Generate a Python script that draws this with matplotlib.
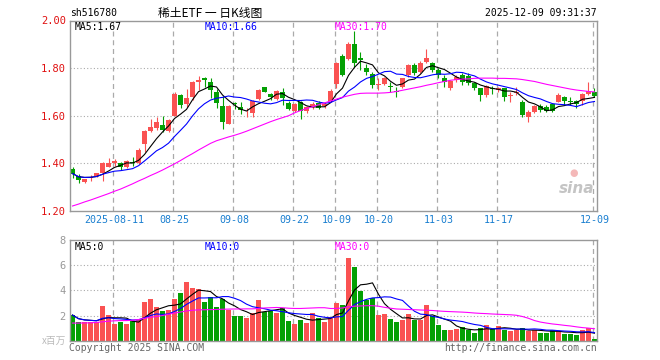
import numpy as np
import pandas as pd
import matplotlib
matplotlib.use("Agg")
import matplotlib.pyplot as plt

# daily candles, 2025-07-31 .. 2025-12-09
opens = [1.378, 1.347, 1.321, 1.338, 1.347, 1.361, 1.386, 1.400, 1.401, 1.386,
         1.405, 1.400, 1.483, 1.536, 1.547, 1.563, 1.536, 1.599, 1.689, 1.651,
         1.677, 1.743, 1.758, 1.743, 1.701, 1.643, 1.567, 1.652, 1.638, 1.610,
         1.613, 1.671, 1.721, 1.693, 1.671, 1.700, 1.654, 1.619, 1.657, 1.618,
         1.637, 1.654, 1.640, 1.660, 1.735, 1.850, 1.840, 1.901, 1.841, 1.802,
         1.774, 1.728, 1.732, 1.725, 1.704, 1.722, 1.771, 1.813, 1.785, 1.824,
         1.820, 1.792, 1.760, 1.715, 1.750, 1.771, 1.768, 1.736, 1.715, 1.687,
         1.715, 1.709, 1.715, 1.681, 1.695, 1.659, 1.596, 1.617, 1.642, 1.638,
         1.648, 1.659, 1.680, 1.662, 1.662, 1.662, 1.690, 1.698]
highs = [1.386, 1.356, 1.336, 1.351, 1.361, 1.405, 1.421, 1.420, 1.405, 1.415,
         1.425, 1.463, 1.542, 1.587, 1.594, 1.597, 1.587, 1.700, 1.690, 1.714,
         1.745, 1.769, 1.762, 1.758, 1.712, 1.682, 1.645, 1.657, 1.657, 1.633,
         1.668, 1.712, 1.722, 1.696, 1.710, 1.717, 1.661, 1.654, 1.661, 1.640,
         1.657, 1.661, 1.657, 1.712, 1.825, 1.860, 1.911, 1.956, 1.866, 1.816,
         1.785, 1.757, 1.764, 1.743, 1.722, 1.760, 1.816, 1.820, 1.830, 1.880,
         1.827, 1.799, 1.771, 1.750, 1.771, 1.778, 1.778, 1.743, 1.715, 1.729,
         1.726, 1.722, 1.718, 1.698, 1.722, 1.666, 1.624, 1.645, 1.648, 1.645,
         1.652, 1.694, 1.684, 1.680, 1.666, 1.694, 1.740, 1.715]
lows = [1.340, 1.319, 1.317, 1.328, 1.344, 1.328, 1.383, 1.390, 1.372, 1.380,
        1.390, 1.397, 1.449, 1.532, 1.540, 1.532, 1.532, 1.597, 1.634, 1.637,
        1.665, 1.707, 1.720, 1.675, 1.633, 1.543, 1.565, 1.627, 1.606, 1.596,
        1.596, 1.668, 1.699, 1.668, 1.668, 1.647, 1.626, 1.615, 1.585, 1.612,
        1.629, 1.629, 1.633, 1.656, 1.715, 1.765, 1.834, 1.806, 1.792, 1.771,
        1.715, 1.708, 1.729, 1.701, 1.680, 1.715, 1.764, 1.771, 1.778, 1.820,
        1.785, 1.757, 1.722, 1.708, 1.743, 1.729, 1.730, 1.708, 1.662, 1.680,
        1.690, 1.701, 1.662, 1.659, 1.687, 1.596, 1.575, 1.610, 1.617, 1.614,
        1.614, 1.656, 1.645, 1.645, 1.634, 1.645, 1.687, 1.680]
closes = [1.357, 1.331, 1.335, 1.343, 1.358, 1.403, 1.400, 1.411, 1.386, 1.410,
          1.400, 1.456, 1.535, 1.553, 1.574, 1.541, 1.581, 1.693, 1.644, 1.675,
          1.742, 1.752, 1.749, 1.707, 1.654, 1.574, 1.640, 1.648, 1.624, 1.613,
          1.661, 1.707, 1.699, 1.679, 1.706, 1.675, 1.629, 1.651, 1.619, 1.635,
          1.650, 1.633, 1.651, 1.705, 1.820, 1.771, 1.900, 1.820, 1.834, 1.785,
          1.729, 1.732, 1.757, 1.721, 1.701, 1.757, 1.813, 1.778, 1.823, 1.844,
          1.792, 1.771, 1.740, 1.746, 1.764, 1.743, 1.736, 1.715, 1.687, 1.726,
          1.711, 1.715, 1.680, 1.687, 1.701, 1.603, 1.617, 1.642, 1.624, 1.620,
          1.620, 1.687, 1.662, 1.659, 1.648, 1.690, 1.704, 1.684]
# volume, millions
volumes = [2.04, 1.46, 1.46, 1.51, 1.46, 2.76, 2.04, 1.33, 1.51, 1.33,
           1.57, 1.64, 3.07, 3.31, 2.70, 2.36, 2.44, 3.31, 3.79, 4.66,
           4.21, 4.11, 3.07, 3.47, 2.68, 3.31, 2.44, 1.96, 1.99, 1.80,
           2.20, 3.23, 2.31, 2.36, 2.20, 2.57, 1.57, 1.33, 1.64, 1.43,
           2.20, 1.80, 1.51, 1.88, 2.99, 2.84, 6.57, 5.85, 3.95, 3.23,
           3.37, 2.04, 2.12, 1.72, 1.49, 1.67, 2.10, 1.68, 1.68, 2.85,
           1.96, 1.24, 0.86, 0.86, 0.94, 1.05, 0.83, 0.62, 0.98, 1.25,
           0.90, 1.17, 0.85, 0.77, 0.85, 0.98, 0.77, 0.85, 0.64, 0.64,
           0.85, 0.77, 0.56, 0.56, 0.45, 0.85, 0.98, 0.14]
# 30-day averages as shown (they reach back before the window)
price_ma30 = [1.221, 1.229, 1.238, 1.246, 1.255, 1.264, 1.273, 1.283, 1.292, 1.303,
              1.314, 1.326, 1.337, 1.349, 1.360, 1.372, 1.385, 1.398, 1.412, 1.427,
              1.441, 1.456, 1.470, 1.484, 1.495, 1.503, 1.511, 1.518, 1.526, 1.535,
              1.545, 1.555, 1.565, 1.575, 1.584, 1.592, 1.600, 1.612, 1.622, 1.630,
              1.638, 1.646, 1.654, 1.662, 1.670, 1.678, 1.684, 1.690, 1.694, 1.695,
              1.695, 1.695, 1.696, 1.698, 1.702, 1.707, 1.712, 1.717, 1.722, 1.728,
              1.733, 1.739, 1.744, 1.749, 1.752, 1.754, 1.755, 1.757, 1.758, 1.758,
              1.758, 1.757, 1.757, 1.756, 1.755, 1.752, 1.748, 1.744, 1.738, 1.732,
              1.727, 1.722, 1.717, 1.712, 1.708, 1.705, 1.702, 1.700]
volume_ma30 = [1.40, 1.40, 1.41, 1.42, 1.45, 1.50, 1.55, 1.58, 1.60, 1.60,
               1.62, 1.68, 1.78, 1.86, 1.92, 2.00, 2.10, 2.20, 2.28, 2.36,
               2.42, 2.45, 2.46, 2.47, 2.48, 2.50, 2.51, 2.52, 2.52, 2.53,
               2.53, 2.56, 2.60, 2.62, 2.64, 2.62, 2.58, 2.56, 2.56, 2.58,
               2.60, 2.62, 2.62, 2.56, 2.56, 2.60, 2.70, 2.74, 2.76, 2.78,
               2.78, 2.74, 2.65, 2.58, 2.52, 2.50, 2.48, 2.46, 2.44, 2.42,
               2.40, 2.36, 2.33, 2.31, 2.29, 2.27, 2.24, 2.20, 2.17, 2.15,
               2.12, 2.10, 2.08, 2.06, 2.02, 1.92, 1.78, 1.60, 1.48, 1.40,
               1.33, 1.28, 1.22, 1.17, 1.10, 1.04, 1.00, 0.95]
tick_pos = [7, 17, 27, 37, 44, 51, 61, 71, 87]
tick_labels = ["2025-08-11", "08-25", "09-08", "09-22", "10-09",
               "10-20", "11-03", "11-17", "12-09"]

RED = "#fa5252"
GREEN = "#04a004"
GRID = "#aaaaaa"
MONO = "DejaVu Sans Mono"

x = np.arange(len(closes))
o = np.array(opens)
c = np.array(closes)
up = c >= o
colors = np.where(up, RED, GREEN)

ma5 = pd.Series(closes).rolling(5, min_periods=1).mean()
ma10 = pd.Series(closes).rolling(10, min_periods=1).mean()
vma5 = pd.Series(volumes).rolling(5, min_periods=1).mean()
vma10 = pd.Series(volumes).rolling(10, min_periods=1).mean()

fig = plt.figure(figsize=(6.6, 3.6), dpi=100)
ax = fig.add_axes([70 / 660, 1 - 211 / 360, 527 / 660, 190.5 / 360])
axv = fig.add_axes([70 / 660, 1 - 340.7 / 360, 527 / 660, 100.7 / 360])

for a in (ax, axv):
    a.set_xlim(-0.42, len(closes) - 0.58)
    for s in a.spines.values():
        s.set_color("#999999")
        s.set_linewidth(1.0)
    a.tick_params(length=0)
    for t in tick_pos:
        a.axvline(t - 0.25, color=GRID, lw=0.9, ls=(0, (4, 3)), zorder=0)

# price panel
ax.set_ylim(1.2, 2.0)
for lvl in (1.4, 1.6, 1.8):
    ax.axhline(lvl, color=GRID, lw=0.8, ls=(0, (1, 2)), zorder=0)
ax.vlines(x, lows, highs, colors=colors, lw=0.8, zorder=2)
body = np.maximum(np.abs(c - o), 0.003)
ax.bar(x, body, bottom=np.minimum(o, c), width=0.72, color=colors, zorder=2)
ax.plot(x, ma5, color="black", lw=0.8, zorder=3)
ax.plot(x, ma10, color="#0000ff", lw=0.8, zorder=3)
ax.plot(x, price_ma30, color="#ff00ff", lw=0.8, zorder=3)
ax.set_yticks([1.2, 1.4, 1.6, 1.8, 2.0])
ax.set_yticklabels(["%.2f" % v for v in [1.2, 1.4, 1.6, 1.8, 2.0]],
                   family=MONO, fontsize=7.5, color="#e01010")
ax.tick_params(axis="y", pad=3)
ax.set_xticks(tick_pos)
ax.set_xticklabels(tick_labels, family=MONO, fontsize=7.2, color="#1a7fd0")
ax.tick_params(axis="x", pad=3)

ax.text(0.009, 0.965, "MA5:1.67", transform=ax.transAxes, family=MONO,
        fontsize=7, color="black", va="center")
ax.text(0.255, 0.965, "MA10:1.66", transform=ax.transAxes, family=MONO,
        fontsize=7, color="#0000ff", va="center")
ax.text(0.503, 0.965, "MA30:1.70", transform=ax.transAxes, family=MONO,
        fontsize=7, color="#ff00ff", va="center")
ax.text(0.995, 0.12, "sina", transform=ax.transAxes, ha="right", va="center",
        fontsize=11, style="italic", weight="bold", color="#c4c4c4")
ax.text(0.955, 0.2, "●", transform=ax.transAxes, ha="center", va="center",
        fontsize=7, color="#f4b8b8")

# volume panel
axv.set_ylim(0, 8)
for lvl in (2, 4, 6):
    axv.axhline(lvl, color=GRID, lw=0.8, ls=(0, (1, 2)), zorder=0)
axv.bar(x, volumes, width=0.75, color=colors, zorder=2)
axv.plot(x, vma5, color="black", lw=0.8, zorder=3)
axv.plot(x, vma10, color="#0000ff", lw=0.8, zorder=3)
axv.plot(x, volume_ma30, color="#ff00ff", lw=0.8, zorder=3)
axv.set_xticks([])
axv.set_yticks([2, 4, 6, 8])
axv.set_yticklabels(["2", "4", "6", "8"], family=MONO, fontsize=7.5, color="#999999")
axv.tick_params(axis="y", pad=3)
axv.text(-0.008, 0.0, "x百万", transform=axv.transAxes, ha="right", va="center",
         family=["Noto Sans CJK SC"], fontsize=7, color="#bbbbbb")
axv.text(0.009, 0.93, "MA5:0", transform=axv.transAxes, family=MONO,
         fontsize=7, color="black", va="center")
axv.text(0.255, 0.93, "MA10:0", transform=axv.transAxes, family=MONO,
         fontsize=7, color="#0000ff", va="center")
axv.text(0.503, 0.93, "MA30:0", transform=axv.transAxes, family=MONO,
         fontsize=7, color="#ff00ff", va="center")

# header / footer
fig.text(70 / 660, 1 - 13 / 360, "sh516780", family=MONO, fontsize=7,
         va="center", ha="left")
fig.text(210 / 660, 1 - 13 / 360, "稀土ETF 一 日K线图", family=["Noto Sans CJK SC"],
         fontsize=8.5, va="center", ha="center")
fig.text(597 / 660, 1 - 13 / 360, "2025-12-09 09:31:37", family=MONO, fontsize=7,
         va="center", ha="right")
fig.text(69 / 660, 1 - 348 / 360, "Copyright 2025 SINA.COM", family=MONO,
         fontsize=7, color="#666666", va="center", ha="left")
fig.text(597 / 660, 1 - 348 / 360, "http://finance.sina.com.cn", family=MONO,
         fontsize=7, color="#666666", va="center", ha="right")

fig.savefig("out.png", dpi=100)
